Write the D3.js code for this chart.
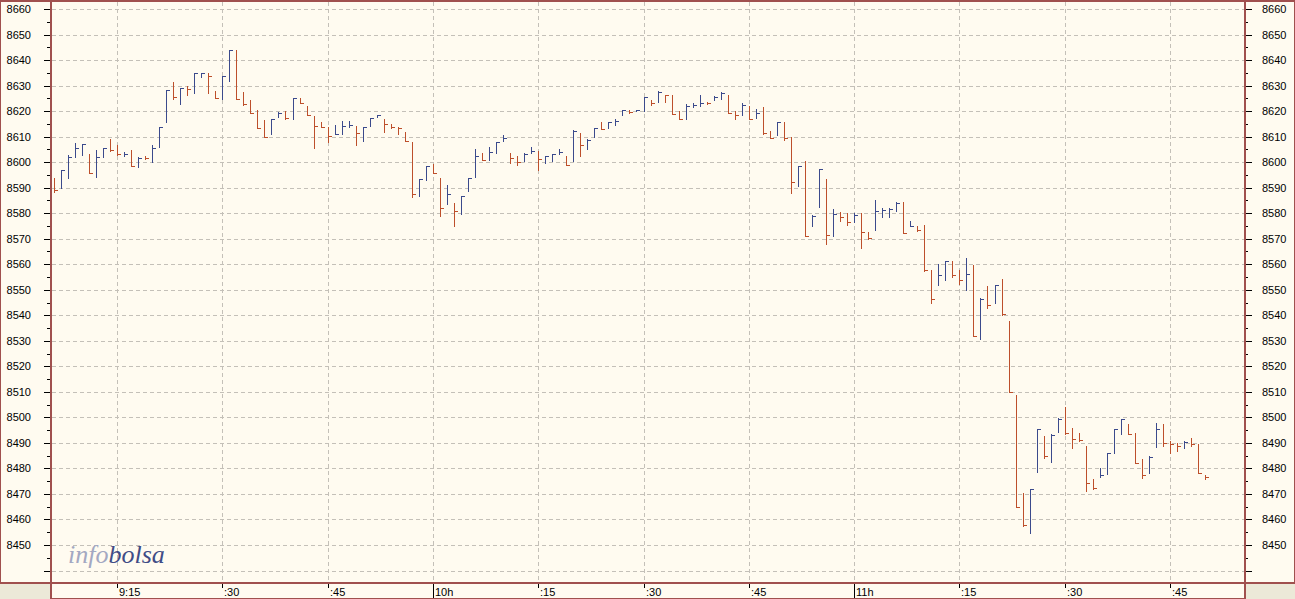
<!DOCTYPE html>
<html>
<head>
<meta charset="utf-8">
<script src="https://cdn.jsdelivr.net/npm/d3@7"></script>
<style>
  html, body { margin: 0; padding: 0; background: #FFFBF0; }
  svg { display: block; }
  text.lbl { font-family: "Liberation Sans", Arial, sans-serif; }
</style>
</head>
<body>
<svg id="chart" width="1295" height="599"></svg>
<script>
// ---- data (one bar per minute, starting 9:06) ----
const startTime = new Date(2000, 0, 1, 9, 6);
const previousClose = 8592;
const highs = [
  8593.7, 8597, 8602.8, 8607.6, 8607, 8603.2, 8604.8, 8605.7, 8608.9, 8606.7,
  8603.8, 8604.8, 8601.9, 8602.5, 8606.7, 8613.6, 8628.3, 8631.5, 8628.9, 8629.8,
  8635, 8635, 8635, 8628, 8633.7, 8643.9, 8643.9, 8627.6, 8624.3, 8620.4,
  8616.5, 8616.8, 8619.8, 8620, 8625.2, 8625.2, 8622, 8618.1, 8615.8, 8613.7,
  8614.6, 8616.2, 8616.2, 8614.2, 8613.6, 8617.4, 8618.5, 8616.9, 8615, 8613.6,
  8612, 8608, 8593.4, 8598.6, 8599.4, 8593.8, 8591.2, 8583.8, 8586.9, 8593.6,
  8605.3, 8603.6, 8605.8, 8608, 8610.8, 8603.6, 8602.6, 8603.4, 8605.8, 8604.3,
  8602.6, 8603, 8605, 8602.6, 8612.5, 8611.5, 8608.9, 8613.4, 8615.6, 8615.6,
  8617, 8620.6, 8620.6, 8620.6, 8625.6, 8624.5, 8628, 8626.5, 8626.5, 8620,
  8622.6, 8623, 8626.5, 8623.5, 8626, 8627.4, 8626.5, 8620, 8623, 8621.9,
  8620.9, 8621.6, 8612.1, 8615.6, 8615.6, 8609.8, 8598.6, 8600.4, 8579.2, 8597.5,
  8593.3, 8581.5, 8580.3, 8580, 8580, 8580, 8572.6, 8585.2, 8582.2, 8582,
  8584.2, 8584.2, 8577.1, 8575, 8575.4, 8557.8, 8560.2, 8561.4, 8561.4, 8557.8,
  8562.4, 8559.8, 8546.8, 8551.3, 8552, 8554.2, 8537.9, 8508.7, 8470.2, 8472,
  8495.3, 8492.6, 8493.3, 8499.8, 8504.1, 8495.9, 8494, 8488.7, 8475.7, 8480.3,
  8486.1, 8495.3, 8499.2, 8497.6, 8493.7, 8483.8, 8484.8, 8497.9, 8497.6, 8490.7,
  8490, 8490.7, 8492, 8489.4, 8477.3
];
const lows = [
  8588.4, 8590, 8593.7, 8601.9, 8602.8, 8595.6, 8594, 8601.9, 8604.5, 8602.8,
  8602.4, 8598.6, 8598.2, 8601.1, 8600, 8606, 8615.6, 8624.6, 8622.6, 8626.3,
  8627.2, 8633.2, 8627, 8625, 8624.6, 8631.6, 8624.6, 8622.4, 8619.1, 8613.5,
  8609.7, 8610.9, 8617.5, 8617, 8616.8, 8623, 8618.5, 8605.4, 8613.6, 8608,
  8610.9, 8610.9, 8613.6, 8606.7, 8608.4, 8614.2, 8617.6, 8611.9, 8613.5, 8611,
  8608.4, 8586.5, 8586.7, 8593, 8595.6, 8578.8, 8583.7, 8574.9, 8579.7, 8588.6,
  8594.1, 8601, 8601, 8603.6, 8608.2, 8599.7, 8598.7, 8600.6, 8603.4, 8596.8,
  8599.7, 8600.4, 8603, 8599, 8600.4, 8602.3, 8605, 8609.9, 8612.8, 8613.4,
  8614.7, 8618.6, 8619.3, 8620, 8620, 8622.2, 8623.5, 8623.5, 8618.9, 8617,
  8617, 8621.6, 8621.9, 8622.6, 8624.3, 8624.8, 8619.3, 8617, 8618.3, 8617,
  8617.3, 8611.2, 8609.5, 8610.8, 8608.6, 8588, 8590.5, 8571, 8574.8, 8582.3,
  8567.8, 8570.9, 8577, 8575.4, 8576.7, 8566.2, 8570, 8573.6, 8578.7, 8578.4,
  8580.9, 8572.4, 8574.8, 8573.2, 8557.2, 8544.8, 8551.7, 8553.7, 8555, 8552.4,
  8550, 8531.8, 8530.7, 8542.8, 8544.8, 8540.2, 8510, 8465, 8457.4, 8454.6,
  8478.6, 8484.2, 8482.5, 8494.2, 8493.3, 8488.1, 8490.7, 8471.1, 8472, 8476.7,
  8478, 8486.1, 8493.3, 8493.3, 8482.2, 8476.4, 8478.3, 8488.5, 8488.7, 8486.1,
  8486.7, 8488.1, 8488.7, 8478.3, 8475.7
];
const closes = [
  8589.1, 8597, 8602, 8605.7, 8607, 8595.6, 8601.9, 8605.7, 8604.8, 8603.0,
  8603.2, 8598.6, 8601.8, 8601.5, 8605.4, 8613.6, 8628.3, 8625.4, 8628.9, 8628.5,
  8634.8, 8635, 8633.7, 8625.3, 8633.7, 8643.9, 8624.6, 8622.6, 8619.1, 8613.5,
  8610, 8616.8, 8619.4, 8617.2, 8625.2, 8623.3, 8618.5, 8614.2, 8613.9, 8610.1,
  8610.9, 8614.2, 8614.4, 8611.5, 8613.6, 8617.4, 8618.5, 8615, 8613.6, 8613.2,
  8608.4, 8587.6, 8593.4, 8598.6, 8595.6, 8582.2, 8587.7, 8580.8, 8586.9, 8593.6,
  8602.6, 8601, 8603.9, 8608, 8609.5, 8601.7, 8600, 8603, 8604.3, 8601.4,
  8602.6, 8603, 8603.9, 8599, 8612.1, 8606.9, 8608.5, 8613.4, 8613, 8615.6,
  8616, 8620.6, 8619.7, 8620.4, 8625.6, 8623.2, 8627.4, 8626.5, 8618.9, 8617,
  8622, 8622.3, 8623.2, 8623, 8625.6, 8626.9, 8619.3, 8618.3, 8622.2, 8617,
  8619.3, 8611.5, 8609.5, 8615.6, 8609.5, 8592.3, 8598.6, 8571.2, 8578.9, 8597.3,
  8571.5, 8579.7, 8578.5, 8576.7, 8579.1, 8572.6, 8570.2, 8581.0, 8581.3, 8581.7,
  8584.0, 8572.4, 8574.8, 8573.5, 8557.6, 8546.4, 8555.9, 8561.1, 8555.9, 8553.7,
  8556.3, 8532, 8546.5, 8544.1, 8551.7, 8540.5, 8510, 8465, 8457.7, 8472,
  8495.3, 8484.8, 8493, 8499.2, 8493.7, 8491.6, 8491.1, 8474.4, 8472.4, 8477.6,
  8486.1, 8495.3, 8499.2, 8493.3, 8482.2, 8477.3, 8484.4, 8495.5, 8489.8, 8489.5,
  8488.7, 8490.2, 8489.6, 8478.3, 8476.7
];
const yMajorTicks = [8440, 8450, 8460, 8470, 8480, 8490, 8500, 8510, 8520, 8530, 8540, 8550,
  8560, 8570, 8580, 8590, 8600, 8610, 8620, 8630, 8640, 8650, 8660];
const yLabels = [8450, 8460, 8470, 8480, 8490, 8500, 8510, 8520, 8530, 8540, 8550,
  8560, 8570, 8580, 8590, 8600, 8610, 8620, 8630, 8640, 8650, 8660];
const yMinorTicks = [8445, 8455, 8465, 8475, 8485, 8495, 8505, 8515, 8525, 8535, 8545, 8555,
  8565, 8575, 8585, 8595, 8605, 8615, 8625, 8635, 8645, 8655];
const xTickTimes = [[9,15],[9,30],[9,45],[10,0],[10,15],[10,30],[10,45],[11,0],[11,15],[11,30],[11,45]];
const xTickLabels = ["9:15", ":30", ":45", "10h", ":15", ":30", ":45", "11h", ":15", ":30", ":45"];

(function draw() {
  const BG = "#FFFBF0", BORDER = "#A0504E", GRID = "#C4C0B8";
  const UP = "#3B4A8C", DOWN = "#BD4F2B", PANEL = "#ECE9D8";

  const svg = d3.select("#chart");
  const pL = 51, pR = 1245, pB = 582, axB = 598;

  const x = d3.scaleTime()
    .domain([new Date(2000,0,1,9,15), new Date(2000,0,1,11,45)])
    .range([117, 1170]);
  const y = d3.scaleLinear().domain([8450, 8660]).range([545, 9]);
  const py = v => Math.round(y(v)) + 0.5;

  svg.append("rect").attr("width", 1295).attr("height", 599).attr("fill", BG);
  svg.append("rect").attr("x", 0).attr("y", pB + 1).attr("width", pL - 1).attr("height", 599 - pB - 1).attr("fill", PANEL);
  svg.append("rect").attr("x", pR + 1).attr("y", pB + 1).attr("width", 1295 - pR - 1).attr("height", 599 - pB - 1).attr("fill", PANEL);

  // grid
  const grid = svg.append("g").attr("shape-rendering", "crispEdges");
  grid.selectAll("line.h").data(yMajorTicks).join("line")
    .attr("x1", pL + 1).attr("x2", pR)
    .attr("y1", py).attr("y2", py)
    .attr("stroke", GRID).attr("stroke-dasharray", "4,3");
  const tickTimes = xTickTimes.map(t => new Date(2000,0,1,t[0],t[1]));
  const tx = d => Math.round(x(d)) + 0.5;
  grid.selectAll("line.v").data(tickTimes).join("line")
    .attr("x1", tx).attr("x2", tx)
    .attr("y1", 2).attr("y2", pB)
    .attr("stroke", GRID).attr("stroke-dasharray", "4,3");

  // bars
  const bars = svg.append("g").attr("shape-rendering", "crispEdges");
  const data = highs.map((h, i) => ({
    t: d3.timeMinute.offset(startTime, i),
    h, l: lows[i], c: closes[i],
    up: closes[i] > (i === 0 ? previousClose : closes[i - 1])
  }));
  data[0].up = false;
  const bx = d => Math.round(x(d.t)) + 0.5;
  bars.selectAll("line.hl").data(data).join("line")
    .attr("x1", bx).attr("x2", bx)
    .attr("y1", d => Math.round(y(d.h))).attr("y2", d => Math.round(y(d.l)) + 1)
    .attr("stroke", d => d.up ? UP : DOWN).attr("stroke-width", 1);
  bars.selectAll("line.c").data(data).join("line")
    .attr("x1", bx).attr("x2", d => bx(d) + 3.5)
    .attr("y1", d => py(d.c)).attr("y2", d => py(d.c))
    .attr("stroke", d => d.up ? UP : DOWN).attr("stroke-width", 1);

  // y axes
  const axes = svg.append("g").attr("shape-rendering", "crispEdges").attr("stroke", "#000");
  axes.selectAll("line.lmaj").data(yMajorTicks).join("line")
    .attr("x1", pL - 7).attr("x2", pL).attr("y1", py).attr("y2", py);
  axes.selectAll("line.lmin").data(yMinorTicks).join("line")
    .attr("x1", pL - 4).attr("x2", pL).attr("y1", py).attr("y2", py);
  axes.selectAll("line.rmaj").data(yMajorTicks).join("line")
    .attr("x1", pR).attr("x2", pR + 7).attr("y1", py).attr("y2", py);
  axes.selectAll("line.rmin").data(yMinorTicks).join("line")
    .attr("x1", pR).attr("x2", pR + 3).attr("y1", py).attr("y2", py);
  svg.selectAll("text.yl").data(yLabels).join("text").attr("class", "lbl")
    .attr("x", 31).attr("y", d => y(d) + 4).attr("text-anchor", "end")
    .attr("font-size", "11px").attr("fill", "#000").text(d => d);
  svg.selectAll("text.yr").data(yLabels).join("text").attr("class", "lbl")
    .attr("x", 1262).attr("y", d => y(d) + 4).attr("text-anchor", "start")
    .attr("font-size", "11px").attr("fill", "#000").text(d => d);

  // x axis
  axes.selectAll("line.xt").data(tickTimes).join("line")
    .attr("x1", tx).attr("x2", tx)
    .attr("y1", pB + 1).attr("y2", (d, i) => xTickLabels[i].endsWith("h") ? axB : pB + 6);
  svg.selectAll("text.xl").data(tickTimes).join("text").attr("class", "lbl")
    .attr("x", d => Math.round(x(d)) + 2).attr("y", 596)
    .attr("font-size", "11px").attr("fill", "#000").text((d, i) => xTickLabels[i]);

  // borders
  const b = svg.append("g").attr("shape-rendering", "crispEdges").attr("fill", "none").attr("stroke", BORDER);
  b.append("line").attr("x1", 0).attr("x2", 1295).attr("y1", 1).attr("y2", 1).attr("stroke-width", 2);
  b.append("line").attr("x1", 0.5).attr("x2", 0.5).attr("y1", 0).attr("y2", pB + 1);
  b.append("line").attr("x1", 1294.5).attr("x2", 1294.5).attr("y1", 0).attr("y2", pB + 1);
  b.append("line").attr("x1", pL).attr("x2", pL).attr("y1", 0).attr("y2", 599).attr("stroke-width", 2);
  b.append("line").attr("x1", pR).attr("x2", pR).attr("y1", 0).attr("y2", 599).attr("stroke-width", 2);
  b.append("line").attr("x1", 0).attr("x2", 1295).attr("y1", pB + 0.5).attr("y2", pB + 0.5).attr("stroke-width", 2);
  b.append("line").attr("x1", pL).attr("x2", pR).attr("y1", axB + 0.5).attr("y2", axB + 0.5);

  // logo
  const logo = svg.append("text").attr("x", 68).attr("y", 563)
    .style("font-family", "'Liberation Serif', 'DejaVu Serif', serif")
    .style("font-style", "italic").style("font-size", "26px");
  logo.append("tspan").attr("fill", "#A3A8C2").text("info");
  logo.append("tspan").attr("fill", "#3F4C86").text("bolsa");
})();
</script>
</body>
</html>
